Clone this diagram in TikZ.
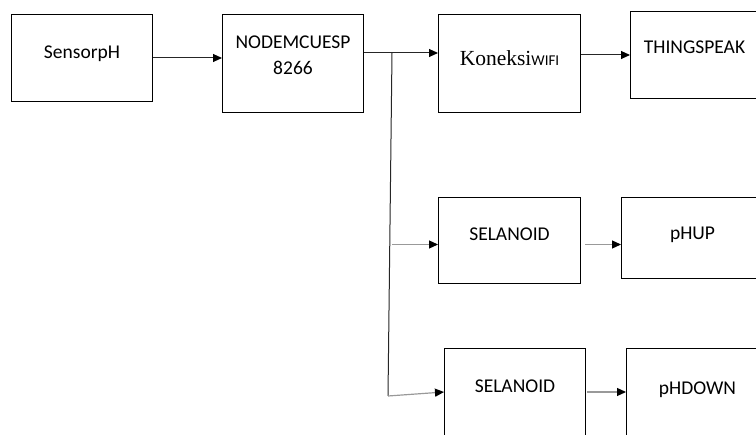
\documentclass[tikz,border=0pt]{standalone}
\usepackage{fontspec}
\setmainfont{Carlito}
\newfontfamily\serifkon{Liberation Serif}
\usetikzlibrary{arrows.meta,positioning}

\begin{document}
\begin{tikzpicture}[x=1pt,y=-1pt,>={Triangle[length=9pt,width=8pt,color=black]},
  box/.style={draw,line width=1pt,inner ysep=0pt,inner xsep=0pt,align=center,anchor=north west,font=\fontsize{19.5}{26}\selectfont},
  wire/.style={draw=black!85,line width=1pt},
  lightwire/.style={draw=black!40,line width=1.2pt}]
\clip (0,0) rectangle (756,435);
\node[box,minimum width=141pt,text height=44pt,text depth=43pt] (sensor) at (11,14) {SensorpH};
\node[box,minimum width=141pt,text height=60pt,text depth=38pt,right=69pt of sensor.north east,anchor=north west] (nodemcu) {NODEMCUESP\\8266};
\node[box,minimum width=142pt,text height=51pt,text depth=47pt,right=74pt of nodemcu.north east,anchor=north west] (koneksi) {{\serifkon\fontsize{21.5}{25}\selectfont Koneksi}{\fontsize{15}{18}\selectfont WIFI}};
\node[box,minimum width=128pt,text height=42pt,text depth=45pt,above right=3pt and 49pt of koneksi.north east,anchor=north west] (thingspeak) {THINGSPEAK};
\node[box,minimum width=142pt,text height=43pt,text depth=43pt,below=84pt of koneksi.south west,anchor=north west] (selanoid1) {SELANOID};
\node[box,minimum width=142pt,text height=42pt,text depth=39pt,right=40pt of selanoid1.north east,anchor=north west] (phup) {pHUP};
\node[box,minimum width=141pt,text height=44pt,text depth=60pt,below right=64pt and 6pt of selanoid1.south west,anchor=north west] (selanoid2) {SELANOID};
\node[box,minimum width=142pt,text height=46pt,text depth=60pt,right=40pt of selanoid2.north east,anchor=north west] (phdown) {pHDOWN};
% branch points of the wire
\coordinate (split) at (392,53);
\coordinate (bend) at (388,396);
\draw[wire,->] (sensor.east) -- (sensor.east -| nodemcu.west);
\draw[wire] (nodemcu.east |- split) -- (split);
\draw[wire,->] (split) -- (split -| koneksi.west);
\draw[wire] (split) -- (bend);
\draw[wire,->] (thingspeak.west -| koneksi.east) -- (thingspeak.west);
\draw[lightwire,->] ([yshift=-4pt]split |- selanoid1.west) -- ([yshift=-4pt]selanoid1.west);
\draw[lightwire,->] (bend) -- ([yshift=-44pt]selanoid2.north west);
\draw[lightwire,->] ([xshift=4pt,yshift=-4pt]selanoid1.east) -- ([yshift=-4pt]selanoid1.east -| phup.west);
\draw[lightwire,->] ([xshift=1pt,yshift=-44pt]selanoid2.north east) -- ([yshift=-44pt]selanoid2.north east -| phdown.west);
\end{tikzpicture}
\end{document}
